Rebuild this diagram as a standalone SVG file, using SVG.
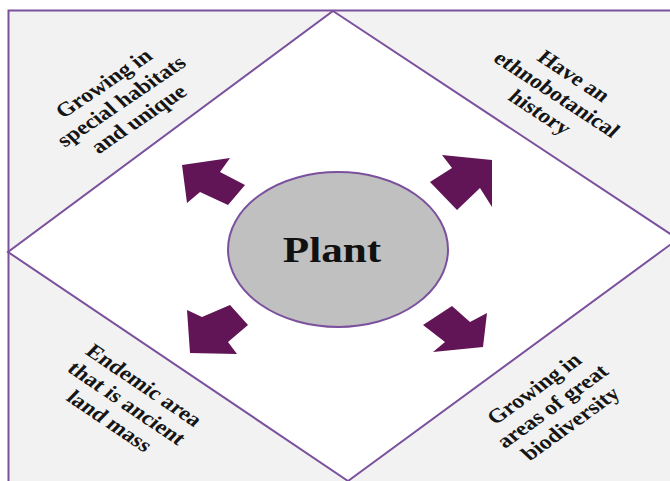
<svg xmlns="http://www.w3.org/2000/svg" width="670" height="481" viewBox="0 0 670 481">
<style>
.frame{fill:#f2f2f2;stroke:#7b519d;stroke-width:2}
.diamond{fill:#ffffff;stroke:#7b519d;stroke-width:2}
.hub{fill:#c0c0c0;stroke:#7b519d;stroke-width:2}
.arrow{fill:#611456;stroke:none}
.lbl{font-family:"Liberation Serif","Times New Roman",serif;font-weight:bold;font-size:20px;fill:#151515;text-anchor:middle;dominant-baseline:central}
.hubtxt{font-family:"Liberation Serif","Times New Roman",serif;font-weight:bold;font-size:36px;fill:#111;text-anchor:middle}
</style>
<rect width="670" height="481" fill="#ffffff"/>
<g id="frame">
<rect class="frame" x="8.5" y="10.5" width="680" height="490"/>
<polygon class="diamond" points="333,11 678,239 348,481 8,252"/>
</g>
<g id="node-plant">
<ellipse class="hub" cx="338" cy="249.5" rx="110" ry="77.5"/>
<text class="hubtxt" transform="translate(332,262) scale(1.2,1)" x="0" y="0">Plant</text>
</g>
<g id="node-top-left" transform="translate(121,101) scale(1.2,1) rotate(-39)">
<text class="lbl" x="0" y="-23">Growing in</text>
<text class="lbl" x="0" y="0">special habitats</text>
<text class="lbl" x="0" y="23">and unique</text>
</g>
<g id="node-top-right" transform="translate(557,94) scale(1.2,1) rotate(38)">
<text class="lbl" x="0" y="-23">Have an</text>
<text class="lbl" x="0" y="0">ethnobotanical</text>
<text class="lbl" x="0" y="23">history</text>
</g>
<g id="node-bottom-left" transform="translate(127,403) scale(1.2,1) rotate(39)">
<text class="lbl" x="0" y="-23">Endemic area</text>
<text class="lbl" x="0" y="0">that is ancient</text>
<text class="lbl" x="0" y="23">land mass</text>
</g>
<g id="node-bottom-right" transform="translate(552,406) scale(1.2,1) rotate(-41)">
<text class="lbl" x="0" y="-23">Growing in</text>
<text class="lbl" x="0" y="0">areas of great</text>
<text class="lbl" x="0" y="23">biodiversity</text>
</g>
<g id="connectors">
<polygon class="arrow" points="182,165 230,158 220,172 245,185 228,205 200,192 187,203"/>
<polygon class="arrow" points="492,160 492,207 480,188 457,210 430,182 452,168 442,155"/>
<polygon class="arrow" points="190,353 237,354 228,342 248,325 230,305 202,317 187,310"/>
<polygon class="arrow" points="483,347 433,352 445,342 423,325 452,306 470,322 487,313"/>
</g>
</svg>
